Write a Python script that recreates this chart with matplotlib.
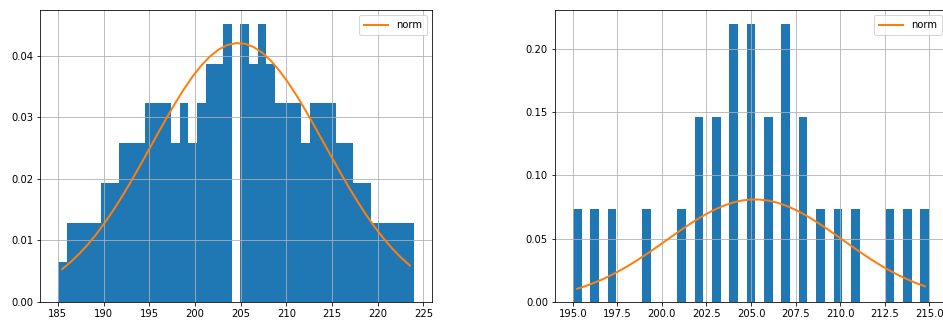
import numpy as np
import matplotlib
matplotlib.use("Agg")
import matplotlib.pyplot as plt

# Left sample: integer values and how often each occurs
left_values = list(range(185, 225))
left_counts = [1, 2, 2, 2, 2, 3, 3, 4, 4, 4,
               5, 5, 5, 4, 5, 4, 5, 6, 6, 7,
               7, 6, 7, 6, 5, 5, 5, 4, 5, 5,
               5, 4, 4, 3, 3, 2, 2, 2, 2, 2]

# Right sample: integer values and how often each occurs
right_values = [195, 196, 197, 199, 201, 202, 203, 204, 205, 206,
                207, 208, 209, 210, 211, 213, 214, 215]
right_counts = [1, 1, 1, 1, 1, 2, 2, 3, 3, 2,
                3, 2, 1, 1, 1, 1, 1, 1]

n_bins = 41
legend_label = "norm"

fig = plt.figure(figsize=(943 / 72, 320 / 72), dpi=72)
ax_l = fig.add_axes([40 / 943, 18 / 320, 392 / 943, 292 / 320])
ax_r = fig.add_axes([555 / 943, 18 / 320, 392 / 943, 292 / 320])


def draw(ax, values, counts):
    data = np.repeat(np.array(values, dtype=float), counts)
    _, edges, _ = ax.hist(data, bins=n_bins, density=True, color="#1f77b4")
    centers = (edges[:-1] + edges[1:]) / 2
    mu, sd = data.mean(), data.std()
    pdf = np.exp(-0.5 * ((centers - mu) / sd) ** 2) / (sd * np.sqrt(2 * np.pi))
    ax.plot(centers, pdf, color="#ff7f0e", lw=2, label=legend_label)
    ax.grid(True)
    ax.legend(loc="upper right", handlelength=2.4, borderpad=0.5)


draw(ax_l, left_values, left_counts)
draw(ax_r, right_values, right_counts)

fig.savefig("out.png", dpi=72)
